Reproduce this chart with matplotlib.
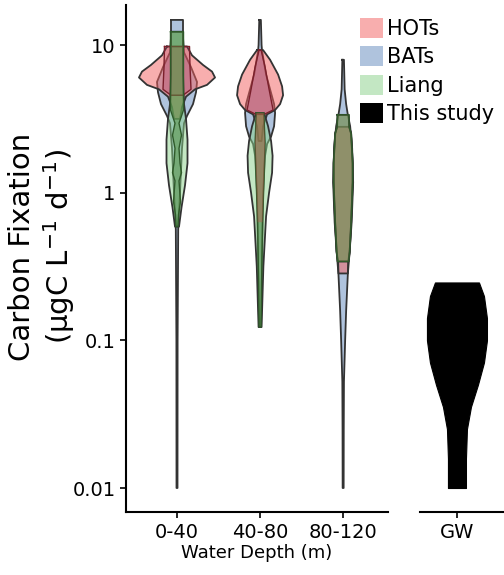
import numpy as np
import matplotlib
matplotlib.use("Agg")
import matplotlib.pyplot as plt
from matplotlib.patches import Patch

# ---------------- data ----------------
groups = ["0-40", "40-80", "80-120"]
other_group = ["GW"]
series = ["HOTs", "BATs", "Liang", "This study"]

# violin profiles: log10(carbon fixation) levels and relative density (half width)
# HOTs
hots_0_log = [0.99, 0.93, 0.865, 0.82, 0.78, 0.73, 0.70, 0.65, 0.58, 0.50]
hots_0_den = [10, 15, 26, 35, 38, 30, 18, 9, 5, 3]
hots_1_log = [0.966, 0.90, 0.80, 0.72, 0.66, 0.60, 0.56, 0.53, 0.45, 0.35]
hots_1_den = [3, 10, 18, 22, 23, 20, 15, 7, 3, 1.5]
hots_2_log = [0.446, 0.40, 0.20, 0.07, -0.20, -0.40, -0.466, -0.547]
hots_2_den = [6, 8, 9.5, 9.5, 8, 6.5, 5, 4.7]
# HOTs inner
hots_0_in_log = [0.99, 0.85, 0.70, 0.66]
hots_0_in_den = [12.5, 13, 14, 6]
hots_1_in_log = [0.966, 0.85, 0.70, 0.56, 0.53]
hots_1_in_den = [1, 5, 9, 13, 4]
hots_1_core_log = [0.54, 0.34, 0.10, -0.20]
hots_1_core_den = [3.7, 5, 4, 2.5]

# BATs
bats_0_log = [1.17, 1.05, 0.95, 0.85, 0.75, 0.68, 0.60, 0.52, 0.47, 0.30, 0.0, -0.25, -1.0, -2.0]
bats_0_den = [6, 6, 7, 14, 20, 19, 16, 10, 7, 5, 3, 1.2, 0.6, 0.5]
bats_1_log = [1.17, 1.0, 0.96, 0.80, 0.70, 0.60, 0.54, 0.45, 0.38, 0.33, 0.25, 0.0, -0.5, -0.91]
bats_1_den = [0.8, 1.5, 2, 6, 10, 14, 15, 14, 11, 7, 5, 3, 2, 1]
bats_2_log = [0.90, 0.70, 0.60, 0.527, 0.45, 0.30, 0.07, -0.20, -0.40, -0.55, -0.80, -1.0, -1.28, -1.6, -2.0]
bats_2_den = [0.8, 1.5, 3, 4.7, 7, 9, 10, 8.5, 6.5, 4.7, 3, 2, 0.8, 0.6, 0.5]

# Liang
liang_0_log = [1.09, 1.0, 0.80, 0.60, 0.50, 0.36, 0.20, 0.05, -0.10, -0.23]
liang_0_den = [6, 6, 6, 7, 9, 10.5, 10.5, 8, 4.5, 2]
liang_1_log = [0.54, 0.45, 0.35, 0.25, 0.135, 0.0, -0.16, -0.50, -0.80, -0.91]
liang_1_den = [4, 8, 11, 12.5, 12, 9, 6, 3.3, 2, 1.5]
liang_2_log = [0.527, 0.446, 0.40, 0.20, 0.07, -0.20, -0.40, -0.466]
liang_2_den = [5.7, 6, 8, 9.5, 9.5, 8, 6.5, 5.5]
# Liang inner
liang_0_in_log = [1.09, 0.56, 0.47, 0.39, 0.30, 0.20, 0.135, 0.08, -0.06, -0.15, -0.23]
liang_0_in_den = [6.5, 6.5, 2, 4.5, 2, 3, 4.5, 2, 3.5, 1.5, 1]
liang_1_in_log = [0.54, 0.34, 0.10, -0.20, -0.60, -0.91]
liang_1_in_den = [3.7, 5, 4, 2.5, 1.5, 1]

# This study (GW)
gw_log = [-0.608, -0.70, -0.85, -1.0, -1.15, -1.30, -1.45, -1.60, -1.80, -2.0]
gw_den = [22, 27, 30, 30, 27, 21, 14, 10, 9, 9]

# ---------------- style ----------------
c_red, c_blue, c_green = "#f35f5f", "#6189bd", "#89d189"
edge = "#333333"
W_LEFT = 1 / 83.0
W_RIGHT = 1 / 84.0

fig = plt.figure(figsize=(5.04, 5.75), dpi=100)
axL = fig.add_axes([126 / 504, 1 - 512 / 575, (388 - 126) / 504, 507 / 575])
axR = fig.add_axes([420 / 504, 1 - 512 / 575, 84 / 504, 507 / 575], sharey=axL)


def violin(ax, pos, logs, den, scale, fc, alpha, ec, lw=1.3, z=2):
    y = 10 ** np.asarray(logs, float)
    w = np.asarray(den, float) * scale
    ax.fill_betweenx(y, pos - w, pos + w, facecolor=fc, alpha=alpha,
                     edgecolor="none", zorder=z)
    if ec is not None:
        xs = np.concatenate([pos - w, (pos + w)[::-1], [pos - w[0]]])
        ys = np.concatenate([y, y[::-1], [y[0]]])
        ax.plot(xs, ys, color=ec, lw=lw, zorder=z + 0.1, solid_joinstyle="round")


# BATs
for i, (lg, dn) in enumerate([(bats_0_log, bats_0_den), (bats_1_log, bats_1_den),
                              (bats_2_log, bats_2_den)]):
    violin(axL, i, lg, dn, W_LEFT, c_blue, 0.5, edge, z=2)
# HOTs
for i, (lg, dn) in enumerate([(hots_0_log, hots_0_den), (hots_1_log, hots_1_den),
                              (hots_2_log, hots_2_den)]):
    violin(axL, i, lg, dn, W_LEFT, c_red, 0.5, edge, z=3)
# Liang
for i, (lg, dn) in enumerate([(liang_0_log, liang_0_den), (liang_1_log, liang_1_den),
                              (liang_2_log, liang_2_den)]):
    violin(axL, i, lg, dn, W_LEFT, c_green, 0.5, edge, z=4)
# inner HOTs
for i, (lg, dn) in enumerate([(hots_0_in_log, hots_0_in_den), (hots_1_in_log, hots_1_in_den)]):
    violin(axL, i, lg, dn, W_LEFT, "#b04060", 0.3, "#7a1f2b", lw=1.0, z=5)
# inner Liang
for i, (lg, dn) in enumerate([(liang_0_in_log, liang_0_in_den), (liang_1_in_log, liang_1_in_den)]):
    violin(axL, i, lg, dn, W_LEFT, "#508c3c", 0.5, "#2f5a2a", lw=1.0, z=6)
violin(axL, 1, hots_1_core_log, hots_1_core_den, W_LEFT, "#c0504a", 0.4, None, z=7)
# extra dark outline on 80-120 body
violin(axL, 2, liang_2_log, liang_2_den, W_LEFT, "#6d6a3a", 0.45, "#2f5a2a", lw=1.0, z=6)

# This study
y = 10 ** np.asarray(gw_log)
w = np.asarray(gw_den) * W_RIGHT
axR.fill_betweenx(y, -w, w, facecolor="black", edgecolor="black", lw=0.8, zorder=3)

# ---------------- axes ----------------
for ax in (axL, axR):
    ax.set_yscale("log")
    ax.set_ylim(10 ** -2.1625, 10 ** 1.271)
    for s in ("top", "right"):
        ax.spines[s].set_visible(False)
    ax.spines["bottom"].set_linewidth(1.5)
    ax.tick_params(axis="x", length=4, width=1.2, labelsize=14, pad=4)
    ax.set_facecolor("none")

axL.set_xlim(-0.614, 2.54)
axR.set_xlim(-0.44, 0.56)
axL.spines["left"].set_linewidth(1.5)
axL.set_xticks(range(len(groups)))
axL.set_xticklabels(groups)
axR.set_xticks(range(len(other_group)))
axR.set_xticklabels(other_group)
axL.set_yticks([0.01, 0.1, 1, 10])
axL.set_yticklabels(["0.01", "0.1", "1", "10"])
axL.yaxis.set_minor_locator(matplotlib.ticker.NullLocator())
axL.tick_params(axis="y", length=4, width=1.2, labelsize=14)
axR.spines["left"].set_visible(False)
axR.tick_params(axis="y", which="both", left=False, labelleft=False)

axL.set_ylabel("Carbon Fixation\n(µgC L$^{-1}$ d$^{-1}$)", fontsize=21, linespacing=1.2)
axL.yaxis.set_label_coords((77 - 126) / 262, 0.523)
axL.set_xlabel("Water Depth (m)", fontsize=13, labelpad=1)

handles = [Patch(facecolor=c_red, alpha=0.5, edgecolor="none"),
           Patch(facecolor=c_blue, alpha=0.5, edgecolor="none"),
           Patch(facecolor=c_green, alpha=0.5, edgecolor="none"),
           Patch(facecolor="black", edgecolor="none")]
fig.legend(handles, series, loc="upper left", bbox_to_anchor=(360 / 504, 1 - 18 / 575),
           frameon=False, fontsize=15, handlelength=1.1, handleheight=1.1,
           handletextpad=0.2, labelspacing=0.35, borderaxespad=0, borderpad=0)

fig.savefig("out.png", dpi=100)
